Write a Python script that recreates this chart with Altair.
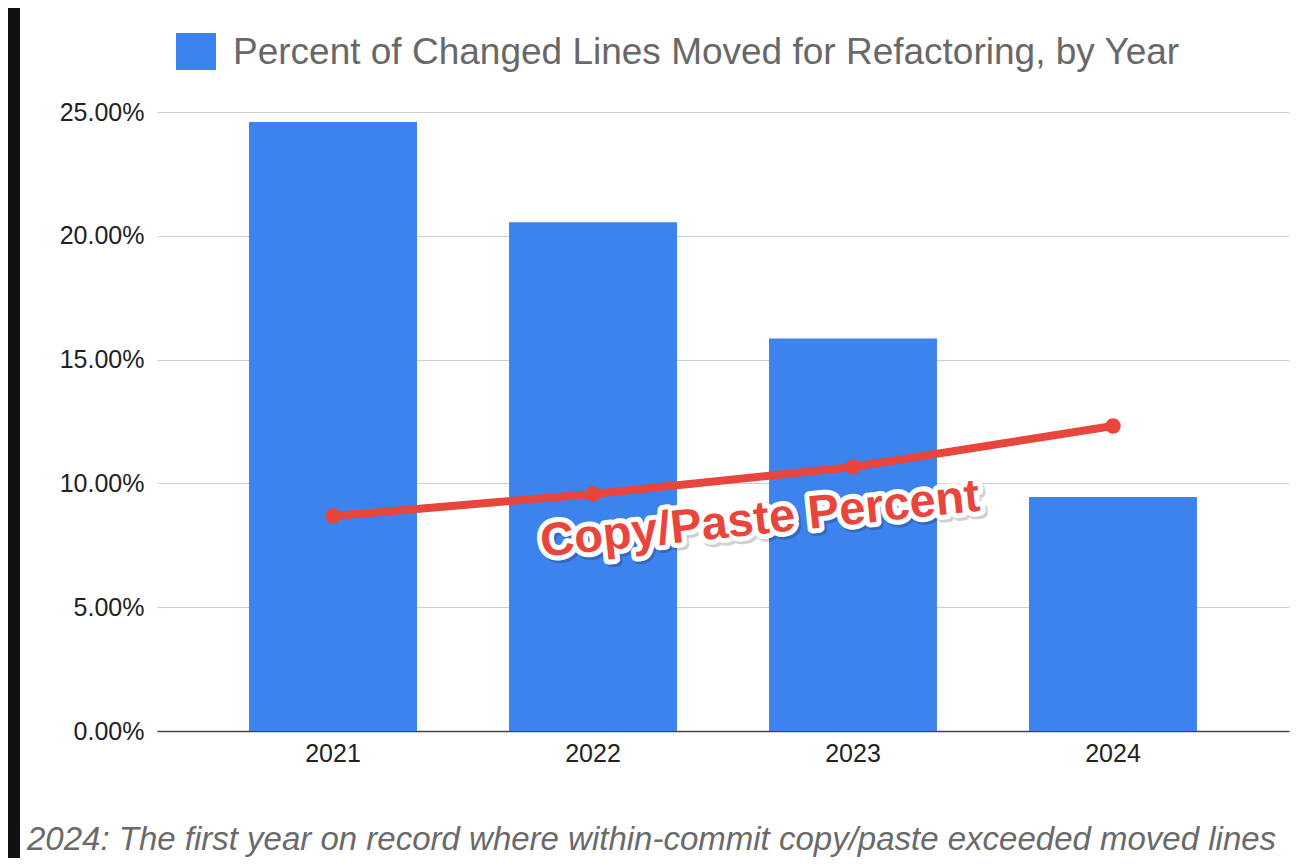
import altair as alt
import pandas as pd

years = ["2021", "2022", "2023", "2024"]
moved_pct = [0.2460, 0.2055, 0.1585, 0.0945]
copy_paste_pct = [0.0868, 0.0957, 0.1066, 0.1232]
y_ticks = [0.0, 0.05, 0.10, 0.15, 0.20, 0.25]

legend_title = "Percent of Changed Lines Moved for Refactoring, by Year"
annotation_text = "Copy/Paste Percent"
annotation_year = "2022"
annotation_y = 0.0782
caption_text = "2024: The first year on record where within-commit copy/paste exceeded moved lines"

BLUE = "#3D83EE"
RED = "#E8453C"
FONT = "Liberation Sans"

df = pd.DataFrame({"year": years, "moved": moved_pct, "copy": copy_paste_pct})
ann = pd.DataFrame({"year": [annotation_year], "y": [annotation_y], "label": [annotation_text]})
one = pd.DataFrame({"k": [0]})

x_enc = alt.X(
    "year:N",
    sort=years,
    scale=alt.Scale(paddingInner=0.354, paddingOuter=0.354),
    axis=alt.Axis(
        title=None, labelAngle=0, labelFontSize=25, labelColor="#222222",
        labelFont=FONT, labelPadding=10, ticks=False, domainColor="#444444",
        domainWidth=1.5,
    ),
)
y_scale = alt.Scale(domain=[0, 0.25], nice=False)

bars = alt.Chart(df).mark_bar(color=BLUE).encode(
    x=x_enc,
    y=alt.Y(
        "moved:Q",
        scale=y_scale,
        axis=alt.Axis(
            title=None, values=y_ticks, format=".2%", grid=True, gridColor="#d0d0d0",
            gridWidth=1, domain=False, ticks=False, labelFontSize=25,
            labelColor="#222222", labelFont=FONT, labelPadding=13,
        ),
    ),
)

line = alt.Chart(df).mark_line(color=RED, strokeWidth=8).encode(
    x=alt.X("year:N", sort=years), y=alt.Y("copy:Q", scale=y_scale)
)
pts = alt.Chart(df).mark_circle(color=RED, size=240, opacity=1).encode(
    x=alt.X("year:N", sort=years), y=alt.Y("copy:Q", scale=y_scale)
)

ann_common = dict(angle=354, fontSize=47, font=FONT, fontWeight="bold",
                  align="center", baseline="middle")
ann_shadow = alt.Chart(ann).mark_text(
    dx=170, dy=3, color="#000000", stroke="#000000", strokeWidth=10,
    opacity=0.18, strokeJoin="round", **ann_common
).encode(x=alt.X("year:N", sort=years), y=alt.Y("y:Q", scale=y_scale), text="label:N")
ann_outline = alt.Chart(ann).mark_text(
    dx=168, color="#ffffff", stroke="#ffffff", strokeWidth=10, strokeJoin="round",
    **ann_common
).encode(x=alt.X("year:N", sort=years), y=alt.Y("y:Q", scale=y_scale), text="label:N")
ann_fill = alt.Chart(ann).mark_text(
    dx=168, color=RED, **ann_common
).encode(x=alt.X("year:N", sort=years), y=alt.Y("y:Q", scale=y_scale), text="label:N")

legend_sq = alt.Chart(one).mark_rect(color=BLUE).encode(
    x=alt.value(19), x2=alt.value(59), y=alt.value(-79), y2=alt.value(-42)
)
legend_txt = alt.Chart(one).mark_text(
    text=legend_title, fontSize=37, font=FONT, color="#686868", align="left",
    baseline="middle"
).encode(x=alt.value(76), y=alt.value(-59))

caption = alt.Chart(one).mark_text(
    text=caption_text, fontSize=33, font=FONT, fontStyle="italic", color="#6a6a6a",
    align="left", baseline="alphabetic"
).encode(x=alt.value(-130), y=alt.value(738))

left_band = alt.Chart(one).mark_rect(color="#111111").encode(
    x=alt.value(-149), x2=alt.value(-137), y=alt.value(-104), y2=alt.value(760)
)

chart = alt.layer(
    left_band, bars, line, pts, ann_shadow, ann_outline, ann_fill,
    legend_sq, legend_txt, caption
).properties(
    width=1132, height=619,
    padding={"left": 149, "top": 104, "right": 4, "bottom": 127},
    autosize=alt.AutoSizeParams(type="none"),
    background="#ffffff",
).configure_view(stroke=None)

chart.save("out.html", embed_options={"renderer": "svg", "actions": False})
